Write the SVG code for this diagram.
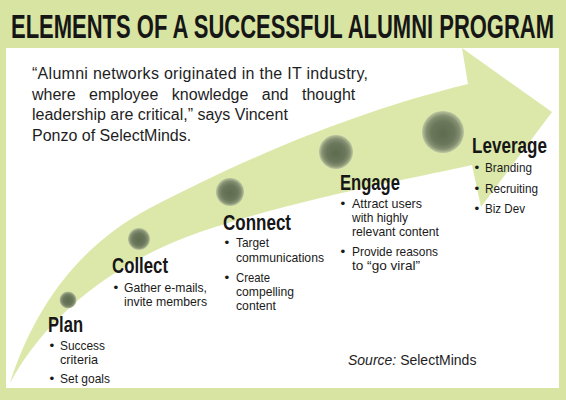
<svg xmlns="http://www.w3.org/2000/svg" width="566" height="400" viewBox="0 0 566 400">
<defs>
<radialGradient id="ball" cx="50%" cy="50%" r="50%" fx="50%" fy="55%">
<stop offset="0%" stop-color="#5f6b4f"/>
<stop offset="55%" stop-color="#6a775a"/>
<stop offset="80%" stop-color="#838f70"/>
<stop offset="100%" stop-color="#bcc6a0"/>
</radialGradient>
<style>
.title{font-family:"Liberation Sans",Arial,sans-serif;font-weight:bold;font-size:33px;fill:#161616}
.quote{font-family:"Liberation Sans",Arial,sans-serif;font-size:16px;fill:#1e1e1e}
.step{font-family:"Liberation Sans",Arial,sans-serif;font-weight:bold;font-size:21.5px;fill:#161616}
.item{font-family:"Liberation Sans",Arial,sans-serif;font-size:13.5px;fill:#1a1a1a}
.src{font-family:"Liberation Sans",Arial,sans-serif;font-size:14px;fill:#1e1e1e}
.ball{fill:url(#ball)}
</style>
</defs>
<rect x="0" y="0" width="566" height="400" fill="#d8e4a2"/>
<rect x="6" y="48" width="553" height="340" fill="#ffffff"/>
<text class="title" transform="scale(0.66 1)" x="16.7" y="38" textLength="822.7" lengthAdjust="spacingAndGlyphs">ELEMENTS OF A SUCCESSFUL ALUMNI PROGRAM</text>
<g id="connectors">
<path d="M10,383 C30,320 70,250 150,208 C220,172 330,118 468,84 L462,48 L552,112 L481,207 L472,165 C420,177 300,198 200,232 C120,260 50,310 10,383 Z" fill="#dce8aa"/>
</g>
<g id="quote">
<text class="quote" x="32" y="79" textLength="336" lengthAdjust="spacing">“Alumni networks originated in the IT industry,</text>
<text class="quote" x="32" y="100" word-spacing="9">where employee knowledge and thought</text>
<text class="quote" x="32" y="120">leadership are critical,” says Vincent</text>
<text class="quote" x="32" y="141">Ponzo of SelectMinds.</text>
</g>
<g id="node-plan">
<circle class="ball" cx="68" cy="300" r="8.5"/>
<text class="step" x="48" y="332" textLength="35" lengthAdjust="spacingAndGlyphs">Plan</text>
<text class="item" x="49.5" y="350">•</text>
<text class="item" x="60" y="350" textLength="45" lengthAdjust="spacingAndGlyphs">Success</text>
<text class="item" x="60" y="364" textLength="38" lengthAdjust="spacingAndGlyphs">criteria</text>
<text class="item" x="49.5" y="383">•</text>
<text class="item" x="60" y="383" textLength="50" lengthAdjust="spacingAndGlyphs">Set goals</text>
</g>
<g id="node-collect">
<circle class="ball" cx="139" cy="239" r="11"/>
<text class="step" x="112" y="273" textLength="56" lengthAdjust="spacingAndGlyphs">Collect</text>
<text class="item" x="113.5" y="292">•</text>
<text class="item" x="124" y="292" textLength="83" lengthAdjust="spacingAndGlyphs">Gather e-mails,</text>
<text class="item" x="124" y="306" textLength="83" lengthAdjust="spacingAndGlyphs">invite members</text>
</g>
<g id="node-connect">
<circle class="ball" cx="230" cy="192" r="14"/>
<text class="step" x="223" y="230" textLength="68" lengthAdjust="spacingAndGlyphs">Connect</text>
<text class="item" x="224.5" y="247">•</text>
<text class="item" x="236" y="247" textLength="33" lengthAdjust="spacingAndGlyphs">Target</text>
<text class="item" x="236" y="262" textLength="88" lengthAdjust="spacingAndGlyphs">communications</text>
<text class="item" x="224.5" y="282">•</text>
<text class="item" x="236" y="282" textLength="34" lengthAdjust="spacingAndGlyphs">Create</text>
<text class="item" x="236" y="296" textLength="58" lengthAdjust="spacingAndGlyphs">compelling</text>
<text class="item" x="236" y="310" textLength="40" lengthAdjust="spacingAndGlyphs">content</text>
</g>
<g id="node-engage">
<circle class="ball" cx="336" cy="152" r="17"/>
<text class="step" x="340" y="190" textLength="60" lengthAdjust="spacingAndGlyphs">Engage</text>
<text class="item" x="340.5" y="208">•</text>
<text class="item" x="352" y="208" textLength="70" lengthAdjust="spacingAndGlyphs">Attract users</text>
<text class="item" x="352" y="222" textLength="56" lengthAdjust="spacingAndGlyphs">with highly</text>
<text class="item" x="352" y="236" textLength="87" lengthAdjust="spacingAndGlyphs">relevant content</text>
<text class="item" x="340.5" y="256">•</text>
<text class="item" x="352" y="256" textLength="86" lengthAdjust="spacingAndGlyphs">Provide reasons</text>
<text class="item" x="352" y="270" textLength="68" lengthAdjust="spacingAndGlyphs">to “go viral”</text>
</g>
<g id="node-leverage">
<circle class="ball" cx="443" cy="132" r="21"/>
<text class="step" x="472" y="153" textLength="75" lengthAdjust="spacingAndGlyphs">Leverage</text>
<text class="item" x="474.5" y="172">•</text>
<text class="item" x="485" y="172" textLength="47" lengthAdjust="spacingAndGlyphs">Branding</text>
<text class="item" x="474.5" y="193">•</text>
<text class="item" x="485" y="193" textLength="53" lengthAdjust="spacingAndGlyphs">Recruiting</text>
<text class="item" x="474.5" y="213">•</text>
<text class="item" x="485" y="213" textLength="40" lengthAdjust="spacingAndGlyphs">Biz Dev</text>
</g>
<text class="src" x="348" y="365"><tspan font-style="italic">Source:</tspan> SelectMinds</text>
</svg>
